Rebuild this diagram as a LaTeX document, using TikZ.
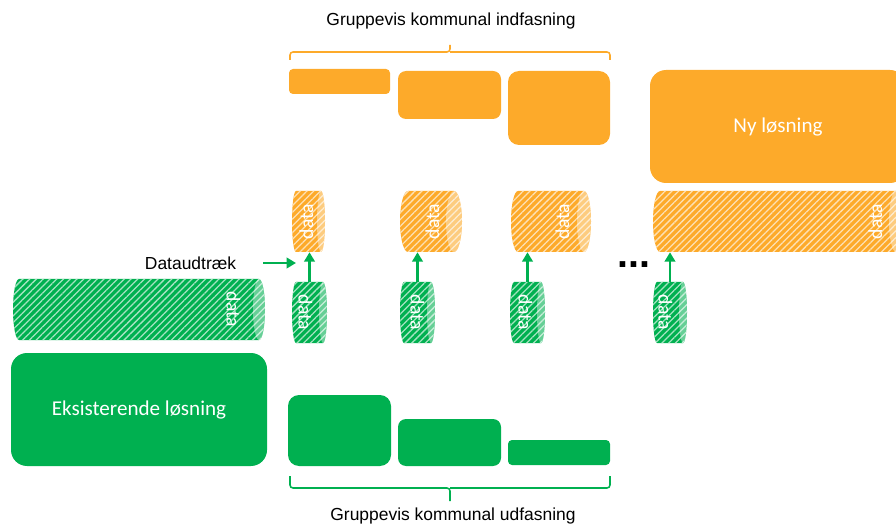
\documentclass[tikz,border=0pt]{standalone}
\usepackage{fontspec}
\setmainfont{Liberation Sans}
\newfontfamily\calibri{Carlito}
\usepackage{tikz}
\usetikzlibrary{patterns.meta,arrows.meta,calc}
\usepackage{xcolor}
\definecolor{new-orange}{RGB}{253,170,42}
\definecolor{old-green}{RGB}{0,176,80}
\def\pxl{0.025cm}
\tikzstyle{pixels}=[x=0.025cm, y=-0.025cm]
\tikzstyle{block}=[inner sep=0pt, text=white, font=\calibri\fontsize{15}{18}\selectfont]
\tikzstyle{newblock}=[block, fill=new-orange]
\tikzstyle{oldblock}=[block, fill=old-green]
\tikzset{store/.style 2 args={inner sep=0pt, minimum height=61*\pxl, path picture={
	\fill[#1, postaction={pattern={Lines[angle=45,distance=3.4pt,line width=.9pt]}, pattern color=#1!35!white}]
		([xshift=#2*\pxl]path picture bounding box.north west) -- ([xshift=-#2*\pxl]path picture bounding box.north east)
		arc[start angle=90, end angle=-90, x radius=#2*\pxl, y radius=30.5*\pxl]
		-- ([xshift=#2*\pxl]path picture bounding box.south west)
		arc[start angle=270, end angle=90, x radius=#2*\pxl, y radius=30.5*\pxl] -- cycle;
	\fill[white, opacity=.4] ([xshift=-#2*\pxl]path picture bounding box.east) ellipse [x radius=#2*\pxl, y radius=30.5*\pxl];
	}},
	newstore/.style={store={new-orange}{#1}},
	oldstore/.style={store={old-green}{#1}}}
\tikzstyle{storetext}=[text=white, font=\calibri\fontsize{14}{16}\selectfont, inner sep=0pt]
\tikzstyle{extract}=[old-green, line width=1.7pt, -{Triangle[length=6.6pt, width=7.4pt]}]
\tikzstyle{phase}=[line width=1.1pt, rounded corners=3*\pxl]
\tikzstyle{caption}=[inner sep=0pt, font=\fontsize{12.4}{15}\selectfont]

\begin{document}
\begin{tikzpicture}[pixels]
	\useasboundingbox (0,0) rectangle (896,525);
	% indfasning
	\node[caption, anchor=base] (intitle) at (451,26) {Gruppevis kommunal indfasning};
	\draw[phase, new-orange] (290,60) |- (450,52) -- (450,45) (450,52) -| (610,60);
	\node[newblock, minimum width=101*\pxl, minimum height=25*\pxl, rounded corners=4*\pxl] (o1) at (339.5,81.5) {};
	\node[newblock, minimum width=103*\pxl, minimum height=48*\pxl, rounded corners=8*\pxl] (o2) at (449.5,95) {};
	\node[newblock, minimum width=102*\pxl, minimum height=74*\pxl, rounded corners=11*\pxl] (o3) at (559,108) {};
	\node[newblock, minimum width=256*\pxl, minimum height=113*\pxl, rounded corners=16*\pxl] (new) at (778,126.5) {Ny løsning};
	% data hos ny losning
	\node[newstore=4, minimum width=33*\pxl] (os1) at (308.5,221.5) {};
	\node[newstore=8, minimum width=62*\pxl] (os2) at (431,221.5) {};
	\node[newstore=7, minimum width=80*\pxl] (os3) at (551,221.5) {};
	\node[newstore=7, minimum width=250*\pxl] (osn) at (778,221.5) {};
	\node[storetext, rotate=90] at ($(os1.east)+(-19,0)$) {data};
	\node[storetext, rotate=90] at ($(os2.east)+(-30,0)$) {data};
	\node[storetext, rotate=90] at ($(os3.east)+(-29,0)$) {data};
	\node[storetext, rotate=90] at ($(osn.east)+(-28,0)$) {data};
	% data hos eksisterende losning
	\node[oldstore=6, minimum width=252*\pxl] (gso) at (139,309.5) {};
	\node[oldstore=4, minimum width=35*\pxl] (gs1) at (309.5,312.5) {};
	\node[oldstore=4, minimum width=35*\pxl] (gs2) at (417.5,312.5) {};
	\node[oldstore=4, minimum width=35*\pxl] (gs3) at (527.5,312.5) {};
	\node[oldstore=4, minimum width=34*\pxl] (gs4) at (670,312.5) {};
	\node[storetext, rotate=-90] at ($(gso.east)+(-32,0)$) {data};
	\node[storetext, rotate=-90] at ($(gs1.east)+(-22,0)$) {data};
	\node[storetext, rotate=-90] at ($(gs2.east)+(-18,0)$) {data};
	\node[storetext, rotate=-90] at ($(gs3.east)+(-20,0)$) {data};
	\node[storetext, rotate=-90] at ($(gs4.east)+(-22,0)$) {data};
	% udtraek
	\draw[extract] (gs1.north) -- (gs1.north |- os1.south);
	\draw[extract] (gs2.north) -- (gs2.north |- os2.south);
	\draw[extract] (gs3.north) -- (gs3.north |- os3.south);
	\draw[extract] (gs4.north) -- (gs4.north |- osn.south);
	\node[caption] (dtx) at (190.5,263) {Dataudtræk};
	\coordinate (dxe) at (296,263);
	\draw[extract] ([xshift=27*\pxl]dtx.east) -- (dxe);
	\node[inner sep=0pt, font=\bfseries\fontsize{28}{30}\selectfont] (more) at (634,264.5) {...};
	% udfasning
	\node[oldblock, minimum width=256*\pxl, minimum height=113*\pxl, rounded corners=16*\pxl] (old) at (139,409.5) {Eksisterende løsning};
	\node[oldblock, minimum width=103*\pxl, minimum height=71*\pxl, rounded corners=11*\pxl] (g1) at (339.5,430.5) {};
	\node[oldblock, minimum width=103*\pxl, minimum height=47*\pxl, rounded corners=8*\pxl] (g2) at (449.5,442.5) {};
	\node[oldblock, minimum width=102*\pxl, minimum height=25*\pxl, rounded corners=4*\pxl] (g3) at (559,452.5) {};
	\draw[phase, old-green] (290,476) |- (450,488) -- (450,501) (450,488) -| (610,476);
	\node[caption, anchor=base] (outtitle) at (453,520) {Gruppevis kommunal udfasning};
\end{tikzpicture}
\end{document}
